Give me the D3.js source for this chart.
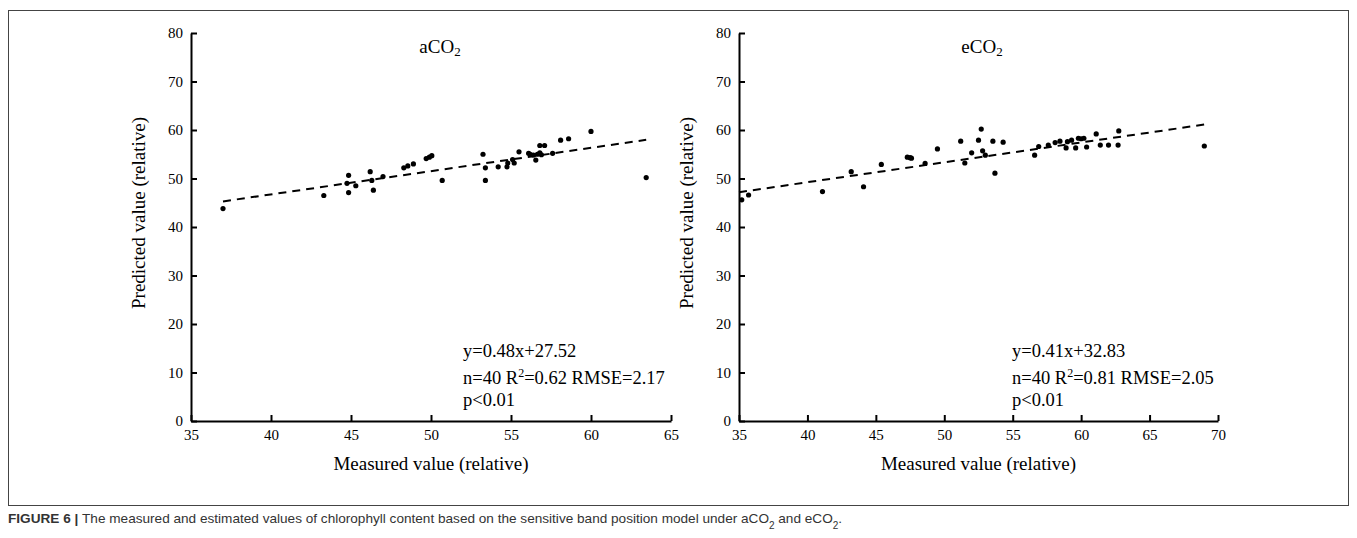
<!DOCTYPE html>
<html>
<head>
<meta charset="utf-8">
<script src="https://cdn.jsdelivr.net/npm/d3@7"></script>
<style>
  body { margin: 0; background: #fff; }
  svg text { font-family: "Liberation Serif", "Times New Roman", serif; fill: #000; }
  text.caption { font-family: "Liberation Sans", Arial, sans-serif; }
</style>
</head>
<body>
<svg id="chart" width="1357" height="538"></svg>
<script>

// aCO2 panel: measured (x) vs predicted (y)
var aMeasured = [37.0, 43.3, 44.85, 44.75, 44.85, 45.3, 46.2, 46.3, 46.4, 47.0,
                 48.3, 48.55, 48.9, 49.7, 49.9, 50.05, 50.7, 53.25, 53.4, 53.4,
                 54.2, 54.75, 54.8, 55.1, 55.2, 55.5, 56.1, 56.2, 56.4, 56.55,
                 56.65, 56.8, 56.9, 56.8, 57.1, 57.6, 58.1, 58.6, 60.0, 63.45];
var aPredicted = [43.8, 46.5, 50.65, 49.0, 47.1, 48.5, 51.4, 49.6, 47.6, 50.4,
                  52.2, 52.6, 53.0, 54.1, 54.4, 54.7, 49.6, 55.0, 52.2, 49.6,
                  52.4, 52.4, 53.2, 53.9, 53.2, 55.5, 55.2, 55.0, 54.85, 53.8,
                  55.0, 55.3, 54.9, 56.8, 56.8, 55.2, 57.9, 58.2, 59.7, 50.2];

// eCO2 panel
var eMeasured = [35.2, 35.7, 41.1, 43.2, 44.1, 45.4, 47.3, 47.6, 48.6, 49.5,
                 51.2, 51.5, 52.0, 52.5, 52.7, 52.8, 53.0, 53.55, 53.7, 54.3,
                 56.6, 57.6, 58.1, 58.45, 58.9, 59.0, 59.3, 59.6, 59.8, 60.0,
                 60.2, 60.4, 61.1, 61.4, 62.0, 62.7, 62.75, 56.9, 47.5, 69.0];
var ePredicted = [45.6, 46.6, 47.3, 51.4, 48.3, 52.9, 54.4, 54.2, 53.1, 56.1,
                  57.7, 53.2, 55.3, 57.9, 60.2, 55.7, 54.8, 57.7, 51.1, 57.5,
                  54.8, 56.9, 57.4, 57.7, 56.3, 57.6, 57.9, 56.3, 58.3, 58.2,
                  58.3, 56.5, 59.2, 56.9, 56.9, 56.9, 59.8, 56.6, 54.3, 56.7];

var yTicks = [0, 10, 20, 30, 40, 50, 60, 70, 80];
var xTicksA = [35, 40, 45, 50, 55, 60, 65];
var xTicksE = [35, 40, 45, 50, 55, 60, 65, 70];

var fitA = { slope: 0.48, intercept: 27.52, from: 37.0, to: 63.45 };
var fitE = { slope: 0.41, intercept: 32.83, from: 35.0, to: 69.0 };

var statsA = ["y=0.48x+27.52", "0.62", "2.17"];
var statsE = ["y=0.41x+32.83", "0.81", "2.05"];

var svg = d3.select("#chart");

// figure frame
svg.append("rect")
    .attr("x", 8.5).attr("y", 10.5)
    .attr("width", 1340).attr("height", 495)
    .attr("fill", "none")
    .attr("stroke", "#444")
    .attr("stroke-width", 1);

function drawPanel(cfg) {

    var x = d3.scaleLinear().domain(cfg.xDomain).range([cfg.left, cfg.right]);
    var y = d3.scaleLinear().domain([0, 80]).range([421, 33]);

    var g = svg.append("g");

    var yAxis = g.append("g")
        .attr("transform", "translate(" + cfg.left + ",0)")
        .call(d3.axisLeft(y).tickValues(yTicks).tickSizeInner(-6).tickSizeOuter(0).tickPadding(8));

    var xAxis = g.append("g")
        .attr("transform", "translate(0,421)")
        .call(d3.axisBottom(x).tickValues(cfg.xTicks).tickSizeInner(-6).tickSizeOuter(0).tickPadding(8));

    [yAxis, xAxis].forEach(function(ax) {
        ax.select(".domain").attr("stroke", "#000").attr("stroke-width", 2);
        ax.selectAll(".tick line").attr("stroke", "#000").attr("stroke-width", 2);
        ax.selectAll(".tick text")
            .attr("fill", "#000")
            .style("font-family", '"Liberation Serif", serif')
            .style("font-size", "15px");
    });

    // regression line
    var f = cfg.fit;
    g.append("line")
        .attr("x1", x(f.from)).attr("y1", y(f.slope * f.from + f.intercept))
        .attr("x2", x(f.to)).attr("y2", y(f.slope * f.to + f.intercept))
        .attr("stroke", "#000")
        .attr("stroke-width", 2)
        .attr("stroke-dasharray", "8,6");

    // points
    g.selectAll("circle")
        .data(cfg.xs.map(function(d, i) { return [d, cfg.ys[i]]; }))
        .enter().append("circle")
        .attr("cx", function(d) { return x(d[0]); })
        .attr("cy", function(d) { return y(d[1]); })
        .attr("r", 2.6)
        .attr("fill", "#000");

    // panel title
    var t = g.append("text")
        .attr("x", cfg.titleX).attr("y", 53)
        .attr("text-anchor", "middle")
        .style("font-size", "19px")
        .text(cfg.title);
    t.append("tspan").attr("baseline-shift", "-25%").style("font-size", "13px").text("2");

    // axis titles
    g.append("text")
        .attr("x", (cfg.left + cfg.right) / 2).attr("y", 470)
        .attr("text-anchor", "middle")
        .style("font-size", "19px")
        .text("Measured value (relative)");

    g.append("text")
        .attr("transform", "translate(" + (cfg.left - 46) + ",213) rotate(-90)")
        .attr("text-anchor", "middle")
        .style("font-size", "19px")
        .text("Predicted value (relative)");

    // stats
    var sx = cfg.statsX;
    g.append("text").attr("x", sx).attr("y", 357).style("font-size", "18.5px").text(cfg.stats[0]);

    var l2 = g.append("text").attr("x", sx).attr("y", 384).style("font-size", "18.5px");
    l2.append("tspan").text("n=40 R");
    l2.append("tspan").attr("baseline-shift", "super").style("font-size", "12px").text("2");
    l2.append("tspan").text("=" + cfg.stats[1] + " RMSE=" + cfg.stats[2]);

    g.append("text").attr("x", sx).attr("y", 406).style("font-size", "18.5px").text("p<0.01");
}

drawPanel({
    left: 191, right: 671, xDomain: [35, 65], xTicks: xTicksA,
    xs: aMeasured, ys: aPredicted, fit: fitA,
    title: "aCO", titleX: 440, statsX: 463, stats: statsA
});

drawPanel({
    left: 739, right: 1218, xDomain: [35, 70], xTicks: xTicksE,
    xs: eMeasured, ys: ePredicted, fit: fitE,
    title: "eCO", titleX: 982, statsX: 1012, stats: statsE
});

// caption
var cap = svg.append("text")
    .attr("class", "caption")
    .attr("x", 8).attr("y", 523)
    .style("font-size", "13.6px")
    .style("fill", "#333");
cap.append("tspan").style("font-weight", "bold").text("FIGURE 6 | ");
cap.append("tspan").text("The measured and estimated values of chlorophyll content based on the sensitive band position model under aCO");
cap.append("tspan").attr("baseline-shift", "sub").style("font-size", "10px").text("2");
cap.append("tspan").text(" and eCO");
cap.append("tspan").attr("baseline-shift", "sub").style("font-size", "10px").text("2");
cap.append("tspan").text(".");

</script>
</body>
</html>
